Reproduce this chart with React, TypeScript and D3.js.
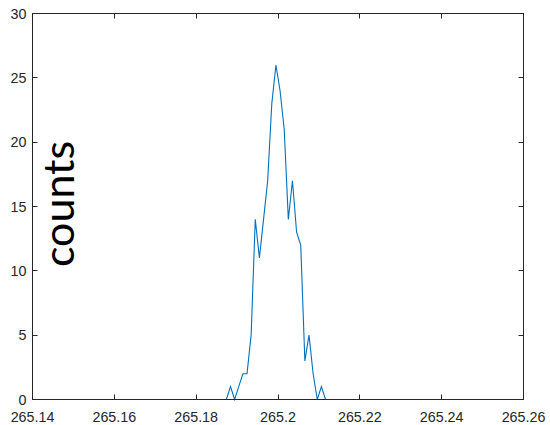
import React from "react";
import * as d3 from "d3";

// Histogram of counts on a uniform grid of 100 bins between 265.15 and 265.25
const xStart = 265.15;
const xEnd = 265.25;
const counts = [
  0, 0, 0, 0, 0, 0, 0, 0, 0, 0,
  0, 0, 0, 0, 0, 0, 0, 0, 0, 0,
  0, 0, 0, 0, 0, 0, 0, 0, 0, 0,
  0, 0, 0, 0, 0, 0, 0, 0, 1, 0,
  1, 2, 2, 5, 14, 11, 14, 17, 23, 26,
  24, 21, 14, 17, 13, 12, 3, 5, 2, 0,
  1, 0, 0, 0, 0, 0, 0, 0, 0, 0,
  0, 0, 0, 0, 0, 0, 0, 0, 0, 0,
  0, 0, 0, 0, 0, 0, 0, 0, 0, 0,
  0, 0, 0, 0, 0, 0, 0, 0, 0, 0,
];
const xTicks = [265.14, 265.16, 265.18, 265.2, 265.22, 265.24, 265.26];
const yTicks = [0, 5, 10, 15, 20, 25, 30];
const yLabel = "counts";

const W = 550;
const H = 425;
const left = 32.5;
const right = 523.5;
const top = 13.5;
const bottom = 399.5;
const tickLen = 5;
const axisColor = "#262626";

export default function App() {
  const x = d3.scaleLinear().domain([265.14, 265.26]).range([left, right]);
  const y = d3.scaleLinear().domain([0, 30]).range([bottom, top]);
  const step = (xEnd - xStart) / (counts.length - 1);
  const pts: [number, number][] = counts.map((c, i) => [xStart + i * step, c]);
  const line = d3
    .line<[number, number]>()
    .x((d) => x(d[0]))
    .y((d) => y(d[1]));

  const fmt = (v: number) => String(+v.toFixed(2));

  return (
    <svg
      width={W}
      height={H}
      style={{ position: "absolute", left: 0, top: 0, background: "#fff" }}
      fontFamily="'Liberation Sans', Arial, sans-serif"
    >
      <rect x={0} y={0} width={W} height={H} fill="#fff" />
      <path d={line(pts) ?? ""} fill="none" stroke="#0072BD" strokeWidth={1.1} />
      {/* box */}
      <rect
        x={left}
        y={top}
        width={right - left}
        height={bottom - top}
        fill="none"
        stroke={axisColor}
        strokeWidth={1}
      />
      {/* x ticks (bottom and top) */}
      {xTicks.map((t) => {
        const px = Math.round(x(t) - 0.5) + 0.5;
        return (
          <g key={"x" + t}>
            <line x1={px} x2={px} y1={bottom} y2={bottom - tickLen} stroke={axisColor} />
            <line x1={px} x2={px} y1={top} y2={top + tickLen} stroke={axisColor} />
            <text
              x={x(t)}
              y={421.5}
              textAnchor="middle"
              fontSize={14.3}
              fill={axisColor}
            >
              {fmt(t)}
            </text>
          </g>
        );
      })}
      {/* y ticks (left and right) */}
      {yTicks.map((t) => {
        const py = Math.round(y(t) - 0.5) + 0.5;
        return (
          <g key={"y" + t}>
            <line x1={left} x2={left + tickLen} y1={py} y2={py} stroke={axisColor} />
            <line x1={right} x2={right - tickLen} y1={py} y2={py} stroke={axisColor} />
            <text
              x={26.5}
              y={y(t) + 5.2}
              textAnchor="end"
              fontSize={14.3}
              fill={axisColor}
            >
              {t}
            </text>
          </g>
        );
      })}
      <text
        transform="translate(73.5,204) rotate(-90)"
        textAnchor="middle"
        fontFamily="Lato, 'Open Sans', sans-serif"
        fontSize={43}
        fill="#000"
      >
        {yLabel}
      </text>
    </svg>
  );
}
